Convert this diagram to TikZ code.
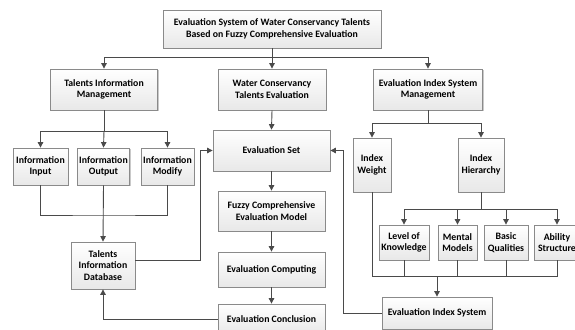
\documentclass[tikz,border=0pt]{standalone}
\usepackage{fontspec}
\setmainfont{Carlito}
\usepackage{xcolor}
\usetikzlibrary{arrows.meta,shadows}

\definecolor{linegray}{HTML}{4A4A4A}
\definecolor{boxgray}{HTML}{8A8A8A}

\tikzset{
  box/.style={draw=boxgray, line width=0.8pt, top color=white, bottom color=black!9,
    drop shadow={shadow xshift=1.2pt, shadow yshift=-1.2pt, fill=black!35, opacity=0.6},
    align=center, inner sep=1pt, font=\fontsize{9.8}{11.5}\selectfont\bfseries},
  arr/.style={draw=linegray, line width=0.9pt, -{Triangle[length=5.5pt,width=5.5pt]}},
  line/.style={draw=linegray, line width=0.9pt}
}

\begin{document}
\begin{tikzpicture}[x=1pt,y=-1pt]
        \useasboundingbox[fill=white] (0,0) rectangle (575,329);
        % top level
        \node[box, minimum width=218pt, minimum height=38pt] (top) at (272,29)
          {Evaluation System of Water Conservancy Talents\\Based on Fuzzy Comprehensive Evaluation};
        \node[box, minimum width=107pt, minimum height=41pt] (tim) at (104,89.5)
          {Talents Information\\Management};
        \node[box, minimum width=108pt, minimum height=41pt] (wcte) at (272,89.5)
          {Water Conservancy\\Talents Evaluation};
        \node[box, minimum width=109pt, minimum height=41pt] (eism) at (428,89.5)
          {Evaluation Index System\\Management};
        % talents information
        \node[box, minimum width=55pt, minimum height=37pt] (input) at (40.5,166.5) {Information\\Input};
        \node[box, minimum width=52pt, minimum height=37pt] (output) at (103.5,166.5) {Information\\Output};
        \node[box, minimum width=53pt, minimum height=37pt] (modify) at (167.5,166.5) {Information\\Modify};
        \node[box, minimum width=64pt, minimum height=47pt] (db) at (103,265.5) {Talents\\Information\\Database};
        % evaluation chain
        \node[box, minimum width=117pt, minimum height=41pt] (evset) at (271.5,150.5) {Evaluation Set};
        \node[box, minimum width=107pt, minimum height=40pt] (fcem) at (271.5,211) {Fuzzy Comprehensive\\Evaluation Model};
        \node[box, minimum width=107pt, minimum height=35pt] (ecomp) at (271.5,269.5) {Evaluation Computing};
        \node[box, minimum width=107pt, minimum height=30pt] (econc) at (271.5,319) {Evaluation Conclusion};
        % index system
        \node[box, minimum width=38pt, minimum height=54pt] (weight) at (372,165) {Index\\Weight};
        \node[box, minimum width=46pt, minimum height=54pt] (hier) at (481,165) {Index\\Hierarchy};
        \node[box, minimum width=50pt, minimum height=35pt] (lok) at (404,242.5) {Level of\\Knowledge};
        \node[box, minimum width=39pt, minimum height=35pt] (mm) at (457.5,242.5) {Mental\\Models};
        \node[box, minimum width=44pt, minimum height=35pt] (bq) at (506,242.5) {Basic\\Qualities};
        \node[box, minimum width=46pt, minimum height=35pt] (as) at (557,242.5) {Ability\\Structure};
        \node[box, minimum width=110pt, minimum height=32pt] (eis) at (437,313) {Evaluation Index System};

        % connectors
        \coordinate (j1) at (272,57);
        \draw[line] (top.south) -- (j1);
        \draw[arr] (j1) -| (tim.north);
        \draw[arr] (j1) -- (wcte.north);
        \draw[arr] (j1) -| (eism.north);

        \coordinate (j2) at (104,131);
        \draw[line] (tim.south) -- (j2);
        \draw[arr] (j2) -| (input.north);
        \draw[arr] (j2) -- (output.north);
        \draw[arr] (j2) -| (modify.north);
        \coordinate (j3) at (104,215);
        \draw[line] (input.south) |- (j3) -| (modify.south);
        \draw[arr] (output.south) -- (db.north);

        \coordinate (j4) at (200,260);
        \draw[arr] (db.east |- j4) -- (j4) |- (evset.west);

        \draw[arr] (wcte.south) -- (evset.north);
        \draw[arr] (evset.south) -- (fcem.north);
        \draw[arr] (fcem.south) -- (ecomp.north);
        \draw[arr] (ecomp.south) -- (econc.north);
        \draw[arr] (econc.west) -| (db.south);

        \coordinate (j5) at (428,123);
        \draw[line] (eism.south) -- (j5);
        \draw[arr] (j5) -| (weight.north);
        \draw[arr] (j5) -| (hier.north);

        \coordinate (j6) at (481,209);
        \draw[line] (hier.south) -- (j6);
        \foreach \n in {lok,mm,bq,as}
          \draw[arr] (j6) -| (\n.north);

        \coordinate (j7) at (437,276);
        \draw[line] (weight.south) |- (j7);
        \foreach \n in {lok,mm,bq,as}
          \draw[line] (\n.south) |- (j7);
        \draw[arr] (j7) -- (eis.north);

        \coordinate (j8) at (343,313);
        \draw[arr] (eis.west) -- (j8) |- (evset.east);
\end{tikzpicture}
\end{document}
